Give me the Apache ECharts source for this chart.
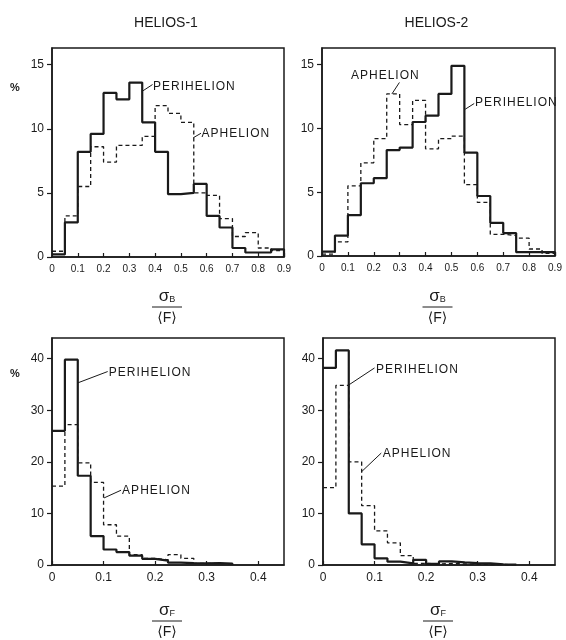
<!DOCTYPE html>
<html>
<head>
<meta charset="utf-8">
<script src="https://cdn.jsdelivr.net/npm/echarts@6/dist/echarts.min.js"></script>
<style>
  html, body { margin: 0; padding: 0; background: #fff; }
  #chart { width: 566px; height: 640px; }
</style>
</head>
<body>
<div id="chart"></div>
<script>
// Distribution of normalised field fluctuations, Helios 1 and Helios 2
const spacecraft = ['HELIOS-1', 'HELIOS-2'];

// sigma_B / <F> : bins of 0.05 from 0 to 0.9 (percent of hours)
const sigBBinWidth = 0.05;
const helios1PeriB = [0.2, 2.7, 8.2, 9.6, 12.8, 12.3, 13.6, 10.5, 8.2, 4.9, 5.0, 5.7, 3.2, 2.3, 0.7, 0.35, 0.35, 0.6];
const helios1ApheB = [0.45, 3.2, 5.5, 8.6, 7.4, 8.7, 8.7, 9.4, 11.8, 11.2, 10.5, 5.0, 4.8, 3.0, 1.6, 1.9, 0.7, 0.5];
const helios2PeriB = [0.35, 1.6, 3.2, 5.7, 6.1, 8.3, 8.5, 10.5, 11.0, 12.7, 14.9, 8.1, 4.7, 2.6, 1.8, 0.3, 0.3, 0.3];
const helios2ApheB = [0.15, 1.1, 5.5, 7.3, 9.2, 12.7, 10.3, 12.2, 8.4, 9.2, 9.4, 5.6, 4.2, 1.7, 1.6, 1.4, 0.55, 0.2];

// sigma_F / <F> : bins of 0.025 starting at 0
const sigFBinWidth = 0.025;
const helios1PeriF = [26.0, 39.8, 17.3, 5.6, 3.0, 2.5, 1.8, 1.2, 0.85, 0.45, 0.35, 0.3, 0.35, 0.25];
const helios1ApheF = [15.3, 27.2, 19.8, 16.0, 7.8, 5.6, 2.0, 1.3, 1.0, 2.0, 1.3, 0.3, 0.3, 0.2];
const helios2PeriF = [38.2, 41.6, 10.0, 4.0, 1.3, 0.65, 0.3, 1.0, 0.2, 0.7, 0.5, 0.35, 0.3, 0.15, 0.1];
const helios2ApheF = [15.0, 34.8, 20.0, 11.5, 6.6, 4.3, 1.8, 0.3, 0.2, 0.3, 0.2, 0.15, 0.1, 0.1, 0.05];

// axis ticks
const sigBTicks = { min: 0, max: 0.9, interval: 0.1 };
const sigFTicks = { min: 0, max: 0.45, interval: 0.1 };
const pctTop = { min: 0, max: 16.3, interval: 5 };
const pctBottom = { min: 0, max: 44, interval: 10 };

const FONT = '"Liberation Sans", "DejaVu Sans", sans-serif';
const INK = '#1a1a1a';

// panel layout: [left, top, width, height]
const panels = [
  [52, 48, 232, 209],
  [322, 48, 233, 208],
  [52, 338, 232, 227],
  [323, 338, 232, 227]
];

// turn bin values into step-line points: [left edge, value] ... then close to zero
function histPoints(values, width) {
  const pts = values.map((v, i) => [+(i * width).toFixed(4), v]);
  pts.push([+(values.length * width).toFixed(4), 0]);
  return pts;
}

function fmtTick(v) { return v === 0 ? '0' : (+v).toFixed(1); }

const grids = panels.map(p => ({
  left: p[0], top: p[1], width: p[2], height: p[3],
  show: true, borderColor: INK, borderWidth: 1.5, backgroundColor: 'transparent'
}));

const xAxes = panels.map((p, i) => {
  const t = i < 2 ? sigBTicks : sigFTicks;
  return {
    type: 'value', gridIndex: i, min: t.min, max: t.max, interval: t.interval,
    axisLine: { show: true, onZero: false, lineStyle: { color: INK, width: 1.5 } },
    axisTick: { show: true, inside: true, length: 4, lineStyle: { color: INK, width: 1.2 } },
    axisLabel: { color: INK, fontFamily: FONT, fontSize: i < 2 ? 10 : 12, margin: 7,
      formatter: fmtTick, showMaxLabel: i < 2 },
    splitLine: { show: false }
  };
});

const yAxes = panels.map((p, i) => {
  const t = i < 2 ? pctTop : pctBottom;
  return {
    type: 'value', gridIndex: i, min: t.min, max: t.max, interval: t.interval,
    axisLine: { show: true, lineStyle: { color: INK, width: 1.5 } },
    axisTick: { show: true, inside: false, length: 5, lineStyle: { color: INK, width: 1.2 } },
    axisLabel: { color: INK, fontFamily: FONT, fontSize: 12, margin: 8, showMaxLabel: false },
    splitLine: { show: false }
  };
});

const seriesDefs = [
  { name: 'Perihelion', g: 0, data: helios1PeriB, w: sigBBinWidth, dashed: false },
  { name: 'Aphelion', g: 0, data: helios1ApheB, w: sigBBinWidth, dashed: true },
  { name: 'Perihelion', g: 1, data: helios2PeriB, w: sigBBinWidth, dashed: false },
  { name: 'Aphelion', g: 1, data: helios2ApheB, w: sigBBinWidth, dashed: true },
  { name: 'Perihelion', g: 2, data: helios1PeriF, w: sigFBinWidth, dashed: false },
  { name: 'Aphelion', g: 2, data: helios1ApheF, w: sigFBinWidth, dashed: true },
  { name: 'Perihelion', g: 3, data: helios2PeriF, w: sigFBinWidth, dashed: false },
  { name: 'Aphelion', g: 3, data: helios2ApheF, w: sigFBinWidth, dashed: true }
];

// aphelion drawn first so the solid perihelion trace sits on top
const series = seriesDefs
  .slice()
  .sort((a, b) => (b.dashed ? 1 : 0) - (a.dashed ? 1 : 0))
  .map(s => ({
    type: 'line', name: s.name, xAxisIndex: s.g, yAxisIndex: s.g,
    step: 'end', symbol: 'none', animation: false, silent: true,
    data: histPoints(s.data, s.w),
    lineStyle: s.dashed
      ? { color: INK, width: 1.3, type: [4, 3] }
      : { color: INK, width: 2.2 },
    z: s.dashed ? 2 : 3
  }));

// callouts: panel, label, text anchor (data), leader from -> to (data)
const callouts = [
  { g: 0, text: 'PERIHELION', at: [0.392, 13.3], from: [0.348, 12.9], to: [0.39, 13.45] },
  { g: 0, text: 'APHELION', at: [0.580, 9.6], from: [0.548, 9.3], to: [0.578, 9.65] },
  { g: 1, text: 'APHELION', at: [0.112, 14.1], from: [0.270, 12.7], to: [0.299, 13.6] },
  { g: 1, text: 'PERIHELION', at: [0.591, 12.0], from: [0.553, 11.5], to: [0.588, 11.95] },
  { g: 2, text: 'PERIHELION', at: [0.110, 37.3], from: [0.050, 35.3], to: [0.108, 37.5] },
  { g: 2, text: 'APHELION', at: [0.136, 14.45], from: [0.101, 13.0], to: [0.134, 14.5] },
  { g: 3, text: 'PERIHELION', at: [0.103, 37.9], from: [0.050, 34.9], to: [0.100, 38.2] },
  { g: 3, text: 'APHELION', at: [0.116, 21.5], from: [0.075, 18.1], to: [0.113, 21.7] }
];

const chart = echarts.init(document.getElementById('chart'), null, { renderer: 'canvas' });
chart.setOption({
  animation: false,
  backgroundColor: '#fff',
  grid: grids, xAxis: xAxes, yAxis: yAxes, series: series
});

function buildGraphics() {
  const els = [];
  // spacecraft headings
  spacecraft.forEach((name, i) => {
    const p = panels[i];
    els.push({ type: 'text', x: p[0] + p[2] / 2 - 2, y: 23,
      style: { text: name, font: '14px ' + FONT, fill: INK, align: 'center', verticalAlign: 'middle' } });
  });
  // percent unit labels
  [0, 2].forEach(i => {
    const p = panels[i];
    els.push({ type: 'text', x: 15, y: p[1] + (i === 0 ? 40 : 36),
      style: { text: '%', font: 'bold 11px ' + FONT, fill: INK, align: 'center', verticalAlign: 'middle' } });
  });
  // fraction axis titles
  panels.forEach((p, i) => {
    const cx = p[0] + p[2] / 2 - 1;
    const base = i < 2 ? 296 : 610;
    const sub = i < 2 ? 'B' : 'F';
    els.push({ type: 'text', x: cx, y: base,
      style: { text: '{s|σ}{b|' + sub + '}', align: 'center', verticalAlign: 'middle', fill: INK,
        rich: { s: { font: '17px ' + FONT, fill: INK }, b: { font: '9px ' + FONT, fill: INK, padding: [8, 0, 0, 0] } } } });
    els.push({ type: 'line', shape: { x1: cx - 15, y1: base + 11, x2: cx + 15, y2: base + 11 },
      style: { stroke: INK, lineWidth: 1 } });
    els.push({ type: 'text', x: cx, y: base + 22,
      style: { text: '⟨F⟩', font: '14px ' + FONT, fill: INK, align: 'center', verticalAlign: 'middle' } });
  });
  // callout labels with leader lines
  callouts.forEach(c => {
    const a = chart.convertToPixel({ gridIndex: c.g }, c.at);
    const f = chart.convertToPixel({ gridIndex: c.g }, c.from);
    const t = chart.convertToPixel({ gridIndex: c.g }, c.to);
    els.push({ type: 'line', shape: { x1: f[0], y1: f[1], x2: t[0], y2: t[1] },
      style: { stroke: INK, lineWidth: 1 }, z: 10 });
    els.push({ type: 'text', x: a[0], y: a[1], z: 10,
      style: { text: c.text.split('').join('\u200A'), font: '12px ' + FONT, fill: INK,
        align: 'left', verticalAlign: 'middle' } });
  });
  return els;
}

chart.setOption({ graphic: { elements: buildGraphics() } });
</script>
</body>
</html>
